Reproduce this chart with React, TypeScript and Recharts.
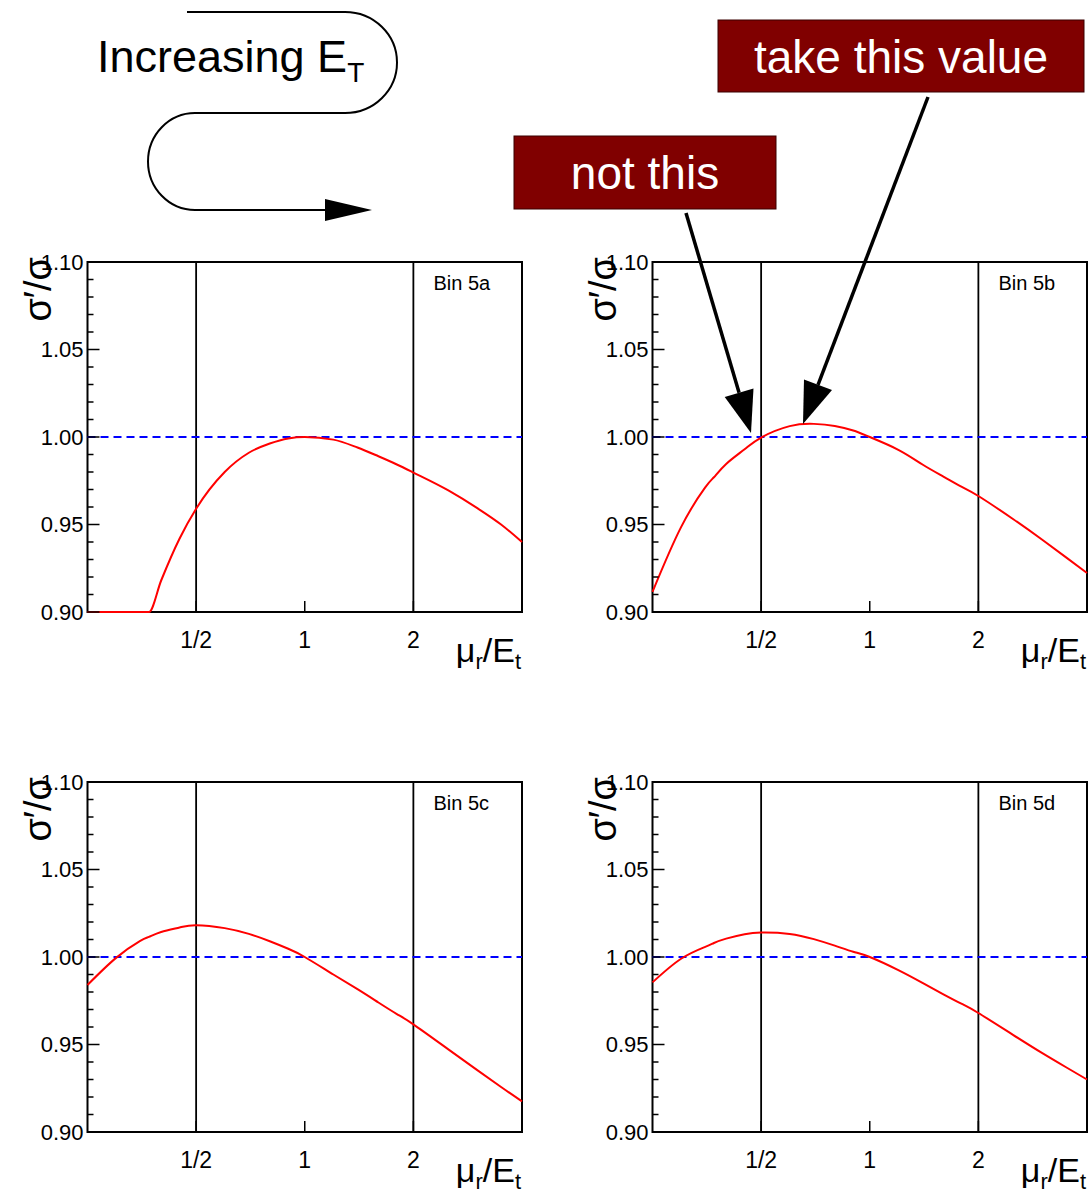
import React from 'react';
import { LineChart, Line, XAxis, YAxis, ReferenceLine, ReferenceArea } from 'recharts';

// mu_r / E_t sample points (log axis from 1/4 to 4)
const muOverEt = [0.25, 0.3, 0.35, 0.37, 0.4, 0.45, 0.5, 0.6, 0.7, 0.8, 0.9, 1.0, 1.2, 1.4, 1.6, 1.8, 2.0, 2.5, 3.0, 3.5, 4.0];

// sigma'/sigma per E_T bin
const ratioBin5a = [0.9, 0.9, 0.9, 0.9, 0.918, 0.942, 0.959, 0.98, 0.991, 0.9963, 0.9992, 1.0, 0.9985, 0.994, 0.989, 0.9843, 0.9797, 0.9695, 0.9595, 0.95, 0.94];
const ratioBin5b = [0.9115, 0.9485, 0.9712, 0.977, 0.9846, 0.993, 0.9997, 1.0062, 1.0075, 1.0063, 1.0037, 1.0, 0.9927, 0.9843, 0.9774, 0.9715, 0.9663, 0.953, 0.9414, 0.9312, 0.9223];
const ratioBin5c = [0.984, 0.9995, 1.0092, 1.0115, 1.0143, 1.0169, 1.0182, 1.0165, 1.0132, 1.009, 1.0047, 1.0, 0.99, 0.9816, 0.974, 0.9674, 0.9615, 0.9472, 0.9355, 0.9257, 0.9175];
const ratioBin5d = [0.9855, 0.999, 1.0058, 1.008, 1.0105, 1.013, 1.014, 1.0132, 1.0102, 1.0065, 1.003, 1.0, 0.9925, 0.9852, 0.9787, 0.9732, 0.968, 0.9554, 0.9452, 0.937, 0.93];

const binNames = ['Bin 5a', 'Bin 5b', 'Bin 5c', 'Bin 5d'];
const binSeries = [ratioBin5a, ratioBin5b, ratioBin5c, ratioBin5d];

const xTickValues = [0.5, 1, 2];
const xTickLabels = ['1/2', '1', '2'];
const yTickValues = [0.9, 0.91, 0.92, 0.93, 0.94, 0.95, 0.96, 0.97, 0.98, 0.99, 1.0, 1.01, 1.02, 1.03, 1.04, 1.05, 1.06, 1.07, 1.08, 1.09, 1.1];
const yMajorLabels = ['0.90', '0.95', '1.00', '1.05', '1.10'];

const FONT = '"Liberation Sans", Arial, Helvetica, sans-serif';
const CW = 526;
const CH = 460;
const M = { top: 22, right: 4, bottom: 58, left: 27.5 };
const PL = 87.5;
const PT = 22;
const PR = 522;
const PB = 372;

const panelPos = [
  { left: 0, top: 240 },
  { left: 565, top: 240 },
  { left: 0, top: 760 },
  { left: 565, top: 760 },
];

function YTick(props: any) {
  const { x, y, payload } = props;
  const k = Math.round(payload.value * 100);
  const major = k % 5 === 0;
  const left = x + 4;
  return (
    <g>
      <line x1={left} x2={left + (major ? 12 : 6)} y1={y} y2={y} stroke="#000" strokeWidth={1.5} />
      {major && (
        <text x={x} y={y} dy="0.36em" textAnchor="end" fontSize={22} fill="#000">
          {yMajorLabels[(k - 90) / 5]}
        </text>
      )}
    </g>
  );
}

function XTick(props: any) {
  const { x, y, payload } = props;
  const i = xTickValues.indexOf(payload.value);
  return (
    <g>
      <line x1={x} x2={x} y1={y} y2={y - 11} stroke="#000" strokeWidth={1.5} />
      <text x={x} y={y + 36} textAnchor="middle" fontSize={23} fill="#000">
        {xTickLabels[i]}
      </text>
    </g>
  );
}

function Panel({ idx }: { idx: number }) {
  const data = muOverEt.map((mu, i) => ({ mu, ratio: binSeries[idx][i] }));
  const pos = panelPos[idx];
  return (
    <div style={{ position: 'absolute', left: pos.left, top: pos.top, width: CW, height: CH }}>
      <LineChart width={CW} height={CH} data={data} margin={M}>
        <XAxis
          dataKey="mu"
          type="number"
          scale="log"
          domain={[0.25, 4]}
          ticks={xTickValues}
          interval={0}
          axisLine={false}
          tickLine={false}
          tickSize={0}
          tickMargin={0}
          height={30}
          tick={<XTick />}
        />
        <YAxis
          type="number"
          domain={[0.9, 1.1]}
          ticks={yTickValues}
          interval={0}
          axisLine={false}
          tickLine={false}
          tickSize={0}
          tickMargin={4}
          width={60}
          tick={<YTick />}
        />
        <ReferenceLine x={0.5} stroke="#000" strokeWidth={1.8} />
        <ReferenceLine x={2} stroke="#000" strokeWidth={1.8} />
        <ReferenceLine y={1} stroke="#0000ff" strokeWidth={2} strokeDasharray="8 5" />
        <ReferenceArea x1={0.25} x2={4} y1={0.9} y2={1.1} fill="none" fillOpacity={0} stroke="#000" strokeWidth={2} />
        <Line
          type={idx === 0 ? 'monotone' : 'natural'}
          dataKey="ratio"
          stroke="#ff0000"
          strokeWidth={2}
          dot={false}
          isAnimationActive={false}
        />
      </LineChart>
      <svg
        width={CW}
        height={CH}
        style={{ position: 'absolute', left: 0, top: 0, pointerEvents: 'none' }}
      >
        <text x={PL + 346} y={PT + 28} fontSize={20} fill="#000">
          {binNames[idx]}
        </text>
        <text
          x={PL - 37}
          y={PT - 5}
          fontSize={38}
          textAnchor="end"
          transform={`rotate(-90 ${PL - 37} ${PT - 5})`}
          fill="#000"
        >
          σ′/σ
        </text>
        <text x={PR - 1} y={PB + 50} fontSize={34} textAnchor="end" fill="#000">
          <tspan>μ</tspan>
          <tspan fontSize={22} dy={7}>r</tspan>
          <tspan dy={-7}>/E</tspan>
          <tspan fontSize={22} dy={7}>t</tspan>
        </text>
      </svg>
    </div>
  );
}

function Callout({ x, y, w, h, label }: { x: number; y: number; w: number; h: number; label: string }) {
  return (
    <g>
      <rect x={x} y={y} width={w} height={h} fill="#800000" stroke="#3a0000" strokeWidth={1} />
      <text x={x + w / 2} y={y + h / 2} dy="0.36em" textAnchor="middle" fontSize={46} fill="#fff">
        {label}
      </text>
    </g>
  );
}

function Arrow({ x1, y1, x2, y2 }: { x1: number; y1: number; x2: number; y2: number }) {
  const dx = x2 - x1;
  const dy = y2 - y1;
  const len = Math.hypot(dx, dy);
  const ux = dx / len;
  const uy = dy / len;
  const hl = 42;
  const hw = 15;
  const bx = x2 - ux * hl;
  const by = y2 - uy * hl;
  const pts = `${x2},${y2} ${bx - uy * hw},${by + ux * hw} ${bx + uy * hw},${by - ux * hw}`;
  return (
    <g>
      <line x1={x1} y1={y1} x2={bx} y2={by} stroke="#000" strokeWidth={3.5} />
      <polygon points={pts} fill="#000" />
    </g>
  );
}

export default function App() {
  return (
    <div
      style={{
        position: 'absolute',
        left: 0,
        top: 0,
        width: 1090,
        height: 1194,
        overflow: 'hidden',
        background: '#fff',
        fontFamily: FONT,
      }}
    >
      {[0, 1, 2, 3].map((i) => (
        <Panel key={i} idx={i} />
      ))}
      <svg
        width={1090}
        height={1194}
        style={{ position: 'absolute', left: 0, top: 0, pointerEvents: 'none' }}
      >
        {/* winding "increasing E_T" arrow */}
        <path
          d="M 187 12 H 345 A 52 50.5 0 0 1 345 113 H 195 A 47 48.5 0 0 0 195 210 H 330"
          fill="none"
          stroke="#000"
          strokeWidth={2}
        />
        <polygon points="325,199 372,210 325,221" fill="#000" />
        <text x={97} y={72} fontSize={45} fill="#000">
          Increasing E<tspan fontSize={28} dy={10}>T</tspan>
        </text>

        <Callout x={718} y={20} w={366} h={72} label="take this value" />
        <Callout x={514} y={136} w={262} h={73} label="not this" />
        <Arrow x1={686} y1={213} x2={751} y2={433} />
        <Arrow x1={928} y1={97} x2={803} y2={424} />
      </svg>
    </div>
  );
}
